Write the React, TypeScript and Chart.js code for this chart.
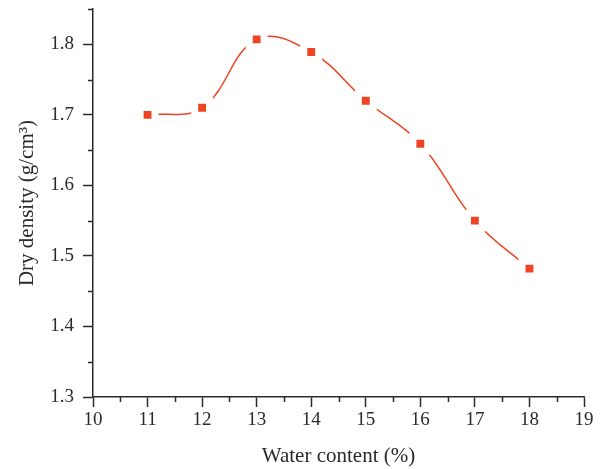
import React, { useEffect, useRef } from "react";
import { Chart, registerables } from "chart.js";

Chart.register(...registerables);

const waterContent = [11, 12, 13, 14, 15, 16, 17, 18];
const dryDensity = [1.70, 1.71, 1.807, 1.789, 1.72, 1.659, 1.55, 1.482];
const xMin = 10;
const xMax = 19;
const yMin = 1.3;
const yMax = 1.85;
const xTitle = "Water content (%)";
const yTitle = "Dry density (g/cm³)";

const FONT = "'Liberation Serif', 'DejaVu Serif', serif";
const AXIS = "#2a2a2a";
const RED = "#ee4423";

const isMajorY = (v: number) => Math.abs(v * 10 - Math.round(v * 10)) < 1e-6;
const isMajorX = (v: number) => Math.abs(v - Math.round(v)) < 1e-6;

const minorTicks = {
  id: "minorTicks",
  afterDraw(chart: any) {
    const ctx = chart.ctx;
    const xs = chart.scales.x;
    const ys = chart.scales.y;
    ctx.save();
    ctx.strokeStyle = AXIS;
    ctx.lineWidth = 1.5;
    ctx.beginPath();
    for (const t of xs.ticks) {
      if (!isMajorX(t.value)) {
        const px = Math.round(xs.getPixelForValue(t.value)) + 0.5;
        ctx.moveTo(px, xs.top);
        ctx.lineTo(px, xs.top + 5);
      }
    }
    for (const t of ys.ticks) {
      if (!isMajorY(t.value)) {
        const py = Math.round(ys.getPixelForValue(t.value)) + 0.5;
        ctx.moveTo(ys.right, py);
        ctx.lineTo(ys.right - 5, py);
      }
    }
    ctx.stroke();
    ctx.restore();
  },
};

export default function App() {
  const ref = useRef<HTMLCanvasElement>(null);
  useEffect(() => {
    if (!ref.current) return;
    const chart = new Chart(ref.current, {
      type: "line",
      data: {
        datasets: [
          {
            data: waterContent.map((x, i) => ({ x, y: dryDensity[i] })),
            borderColor: RED,
            borderWidth: 1.5,
            backgroundColor: RED,
            tension: 0.4,
            pointStyle: "rect",
            pointRadius: 10.5,
            pointBorderWidth: 7,
            pointBorderColor: "#ffffff",
            pointBackgroundColor: RED,
            pointHoverRadius: 10.5,
            fill: false,
          },
        ],
      },
      plugins: [minorTicks],
      options: {
        animation: false,
        responsive: false,
        maintainAspectRatio: false,
        layout: { autoPadding: false, padding: { top: 9, right: 22, left: 0, bottom: 0 } },
        plugins: { legend: { display: false }, tooltip: { enabled: false } },
        scales: {
          x: {
            type: "linear",
            min: xMin,
            max: xMax,
            afterFit: (s: any) => {
              s.height = 72;
              s.paddingLeft = 0;
              s.paddingRight = 0;
            },
            border: { display: true, color: AXIS, width: 1.5 },
            grid: {
              drawOnChartArea: false,
              drawTicks: true,
              tickLength: 10,
              tickWidth: 1.5,
              tickColor: (c: any) => (isMajorX(c.tick.value) ? AXIS : "rgba(0,0,0,0)"),
            },
            ticks: {
              stepSize: 0.5,
              autoSkip: false,
              maxRotation: 0,
              padding: 2,
              color: AXIS,
              font: { family: FONT, size: 19 },
              callback: (v: any) => (isMajorX(Number(v)) ? String(Math.round(Number(v))) : ""),
            },
            title: {
              display: true,
              text: xTitle,
              color: AXIS,
              font: { family: FONT, size: 21 },
              padding: { top: 4, bottom: 0 },
            },
          },
          y: {
            type: "linear",
            min: yMin,
            max: yMax,
            afterFit: (s: any) => {
              s.width = 93;
              s.paddingTop = 0;
              s.paddingBottom = 0;
            },
            border: { display: true, color: AXIS, width: 1.5 },
            grid: {
              drawOnChartArea: false,
              drawTicks: true,
              tickLength: 10,
              tickWidth: 1.5,
              tickColor: (c: any) => (isMajorY(c.tick.value) ? AXIS : "rgba(0,0,0,0)"),
            },
            ticks: {
              stepSize: 0.05,
              autoSkip: false,
              padding: 9,
              color: AXIS,
              font: { family: FONT, size: 19 },
              callback: (v: any) => (isMajorY(Number(v)) ? Number(v).toFixed(1) : ""),
            },
            title: {
              display: true,
              text: yTitle,
              color: AXIS,
              font: { family: FONT, size: 21 },
              padding: { top: 15, bottom: 0 },
            },
          },
        },
      },
    });
    return () => chart.destroy();
  }, []);
  return (
    <div style={{ position: "fixed", left: 0, top: 0, width: 606, height: 469, background: "#fff" }}>
      <canvas ref={ref} width={606} height={469} style={{ width: 606, height: 469 }} />
    </div>
  );
}
